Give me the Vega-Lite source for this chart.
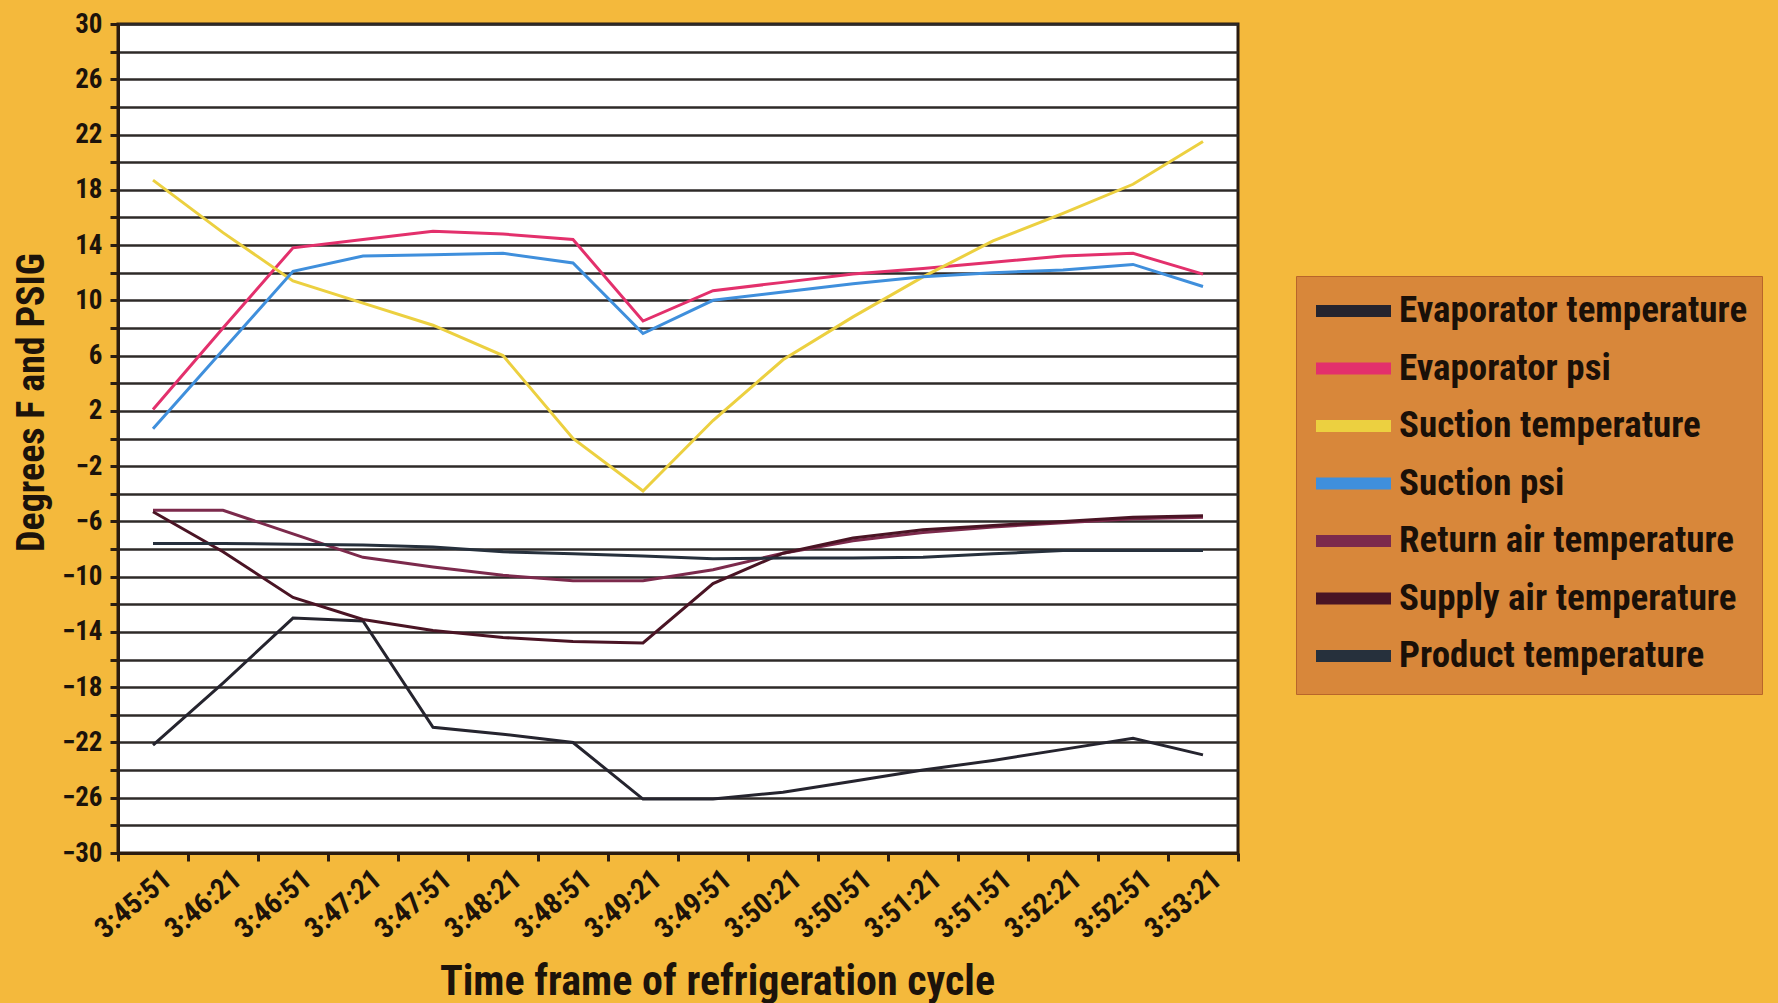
{
  "$schema": "https://vega.github.io/schema/vega-lite/v6.json",
  "width": 1120,
  "height": 829,
  "autosize": "none",
  "padding": {"left": 118, "top": 24, "right": 540, "bottom": 150},
  "background": "#f4b93c",
  "config": {
    "font": "Liberation Sans Narrow, Roboto Condensed, DejaVu Sans Condensed, sans-serif",
    "view": {"fill": "#ffffff", "stroke": "#2b1c10", "strokeWidth": 3}
  },
  "data": {
    "values": [
      {"time": "3:45:51", "series": "Evaporator temperature", "v": -22.2},
      {"time": "3:46:21", "series": "Evaporator temperature", "v": -17.7},
      {"time": "3:46:51", "series": "Evaporator temperature", "v": -13.0},
      {"time": "3:47:21", "series": "Evaporator temperature", "v": -13.2},
      {"time": "3:47:51", "series": "Evaporator temperature", "v": -20.9},
      {"time": "3:48:21", "series": "Evaporator temperature", "v": -21.4},
      {"time": "3:48:51", "series": "Evaporator temperature", "v": -22.0},
      {"time": "3:49:21", "series": "Evaporator temperature", "v": -26.1},
      {"time": "3:49:51", "series": "Evaporator temperature", "v": -26.1},
      {"time": "3:50:21", "series": "Evaporator temperature", "v": -25.6},
      {"time": "3:50:51", "series": "Evaporator temperature", "v": -24.8},
      {"time": "3:51:21", "series": "Evaporator temperature", "v": -24.0},
      {"time": "3:51:51", "series": "Evaporator temperature", "v": -23.3},
      {"time": "3:52:21", "series": "Evaporator temperature", "v": -22.5},
      {"time": "3:52:51", "series": "Evaporator temperature", "v": -21.7},
      {"time": "3:53:21", "series": "Evaporator temperature", "v": -22.9},

      {"time": "3:45:51", "series": "Evaporator psi", "v": 2.1},
      {"time": "3:46:21", "series": "Evaporator psi", "v": 8.0},
      {"time": "3:46:51", "series": "Evaporator psi", "v": 13.8},
      {"time": "3:47:21", "series": "Evaporator psi", "v": 14.4},
      {"time": "3:47:51", "series": "Evaporator psi", "v": 15.0},
      {"time": "3:48:21", "series": "Evaporator psi", "v": 14.8},
      {"time": "3:48:51", "series": "Evaporator psi", "v": 14.4},
      {"time": "3:49:21", "series": "Evaporator psi", "v": 8.5},
      {"time": "3:49:51", "series": "Evaporator psi", "v": 10.7},
      {"time": "3:50:21", "series": "Evaporator psi", "v": 11.3},
      {"time": "3:50:51", "series": "Evaporator psi", "v": 11.9},
      {"time": "3:51:21", "series": "Evaporator psi", "v": 12.3},
      {"time": "3:51:51", "series": "Evaporator psi", "v": 12.75},
      {"time": "3:52:21", "series": "Evaporator psi", "v": 13.2},
      {"time": "3:52:51", "series": "Evaporator psi", "v": 13.4},
      {"time": "3:53:21", "series": "Evaporator psi", "v": 11.9},

      {"time": "3:45:51", "series": "Suction temperature", "v": 18.7},
      {"time": "3:46:21", "series": "Suction temperature", "v": 14.9},
      {"time": "3:46:51", "series": "Suction temperature", "v": 11.4},
      {"time": "3:47:21", "series": "Suction temperature", "v": 9.8},
      {"time": "3:47:51", "series": "Suction temperature", "v": 8.2},
      {"time": "3:48:21", "series": "Suction temperature", "v": 6.0},
      {"time": "3:48:51", "series": "Suction temperature", "v": 0.0},
      {"time": "3:49:21", "series": "Suction temperature", "v": -3.8},
      {"time": "3:49:51", "series": "Suction temperature", "v": 1.3},
      {"time": "3:50:21", "series": "Suction temperature", "v": 5.7},
      {"time": "3:50:51", "series": "Suction temperature", "v": 8.8},
      {"time": "3:51:21", "series": "Suction temperature", "v": 11.7},
      {"time": "3:51:51", "series": "Suction temperature", "v": 14.3},
      {"time": "3:52:21", "series": "Suction temperature", "v": 16.3},
      {"time": "3:52:51", "series": "Suction temperature", "v": 18.4},
      {"time": "3:53:21", "series": "Suction temperature", "v": 21.5},

      {"time": "3:45:51", "series": "Suction psi", "v": 0.7},
      {"time": "3:46:21", "series": "Suction psi", "v": 6.4},
      {"time": "3:46:51", "series": "Suction psi", "v": 12.1},
      {"time": "3:47:21", "series": "Suction psi", "v": 13.2},
      {"time": "3:47:51", "series": "Suction psi", "v": 13.3},
      {"time": "3:48:21", "series": "Suction psi", "v": 13.4},
      {"time": "3:48:51", "series": "Suction psi", "v": 12.7},
      {"time": "3:49:21", "series": "Suction psi", "v": 7.6},
      {"time": "3:49:51", "series": "Suction psi", "v": 10.0},
      {"time": "3:50:21", "series": "Suction psi", "v": 10.6},
      {"time": "3:50:51", "series": "Suction psi", "v": 11.2},
      {"time": "3:51:21", "series": "Suction psi", "v": 11.7},
      {"time": "3:51:51", "series": "Suction psi", "v": 12.0},
      {"time": "3:52:21", "series": "Suction psi", "v": 12.2},
      {"time": "3:52:51", "series": "Suction psi", "v": 12.6},
      {"time": "3:53:21", "series": "Suction psi", "v": 11.0},

      {"time": "3:45:51", "series": "Return air temperature", "v": -5.2},
      {"time": "3:46:21", "series": "Return air temperature", "v": -5.2},
      {"time": "3:46:51", "series": "Return air temperature", "v": -6.9},
      {"time": "3:47:21", "series": "Return air temperature", "v": -8.6},
      {"time": "3:47:51", "series": "Return air temperature", "v": -9.3},
      {"time": "3:48:21", "series": "Return air temperature", "v": -9.9},
      {"time": "3:48:51", "series": "Return air temperature", "v": -10.3},
      {"time": "3:49:21", "series": "Return air temperature", "v": -10.3},
      {"time": "3:49:51", "series": "Return air temperature", "v": -9.5},
      {"time": "3:50:21", "series": "Return air temperature", "v": -8.3},
      {"time": "3:50:51", "series": "Return air temperature", "v": -7.4},
      {"time": "3:51:21", "series": "Return air temperature", "v": -6.8},
      {"time": "3:51:51", "series": "Return air temperature", "v": -6.4},
      {"time": "3:52:21", "series": "Return air temperature", "v": -6.1},
      {"time": "3:52:51", "series": "Return air temperature", "v": -5.8},
      {"time": "3:53:21", "series": "Return air temperature", "v": -5.7},

      {"time": "3:45:51", "series": "Supply air temperature", "v": -5.3},
      {"time": "3:46:21", "series": "Supply air temperature", "v": -8.2},
      {"time": "3:46:51", "series": "Supply air temperature", "v": -11.5},
      {"time": "3:47:21", "series": "Supply air temperature", "v": -13.1},
      {"time": "3:47:51", "series": "Supply air temperature", "v": -13.9},
      {"time": "3:48:21", "series": "Supply air temperature", "v": -14.4},
      {"time": "3:48:51", "series": "Supply air temperature", "v": -14.7},
      {"time": "3:49:21", "series": "Supply air temperature", "v": -14.8},
      {"time": "3:49:51", "series": "Supply air temperature", "v": -10.5},
      {"time": "3:50:21", "series": "Supply air temperature", "v": -8.3},
      {"time": "3:50:51", "series": "Supply air temperature", "v": -7.2},
      {"time": "3:51:21", "series": "Supply air temperature", "v": -6.6},
      {"time": "3:51:51", "series": "Supply air temperature", "v": -6.3},
      {"time": "3:52:21", "series": "Supply air temperature", "v": -6.0},
      {"time": "3:52:51", "series": "Supply air temperature", "v": -5.7},
      {"time": "3:53:21", "series": "Supply air temperature", "v": -5.6},

      {"time": "3:45:51", "series": "Product temperature", "v": -7.6},
      {"time": "3:46:21", "series": "Product temperature", "v": -7.6},
      {"time": "3:46:51", "series": "Product temperature", "v": -7.65},
      {"time": "3:47:21", "series": "Product temperature", "v": -7.7},
      {"time": "3:47:51", "series": "Product temperature", "v": -7.85},
      {"time": "3:48:21", "series": "Product temperature", "v": -8.2},
      {"time": "3:48:51", "series": "Product temperature", "v": -8.35},
      {"time": "3:49:21", "series": "Product temperature", "v": -8.5},
      {"time": "3:49:51", "series": "Product temperature", "v": -8.7},
      {"time": "3:50:21", "series": "Product temperature", "v": -8.65},
      {"time": "3:50:51", "series": "Product temperature", "v": -8.65},
      {"time": "3:51:21", "series": "Product temperature", "v": -8.6},
      {"time": "3:51:51", "series": "Product temperature", "v": -8.35},
      {"time": "3:52:21", "series": "Product temperature", "v": -8.1},
      {"time": "3:52:51", "series": "Product temperature", "v": -8.1},
      {"time": "3:53:21", "series": "Product temperature", "v": -8.1}
    ]
  },
  "mark": {"type": "line", "strokeWidth": 3},
  "encoding": {
    "x": {
      "field": "time",
      "type": "ordinal",
      "sort": null,
      "bandPosition": 0.5,
      "scale": {"type": "band", "paddingInner": 0, "paddingOuter": 0},
      "axis": {
        "title": "Time frame of refrigeration cycle",
        "tickBand": "extent",
        "grid": false,
        "labelAngle": -40,
        "labelAlign": "right",
        "labelBaseline": "middle",
        "labelOffset": 14,
        "labelPadding": 14,
        "labelFontSize": 29,
        "labelFontWeight": "bold",
        "labelColor": "#1c130b",
        "domainColor": "#2b1c10",
        "domainWidth": 3,
        "tickColor": "#2b1c10",
        "tickWidth": 3,
        "tickSize": 8,
        "titleFontSize": 42,
        "titleFontWeight": "bold",
        "titleColor": "#1c130b",
        "titleX": 599,
        "titleY": 128,
        "titleAlign": "center",
        "titleBaseline": "middle"
      }
    },
    "y": {
      "field": "v",
      "type": "quantitative",
      "scale": {"domain": [-30, 30], "nice": false, "zero": false},
      "axis": {
        "title": "Degrees F and PSIG",
        "values": [-30, -28, -26, -24, -22, -20, -18, -16, -14, -12, -10, -8, -6, -4, -2, 0, 2, 4, 6, 8, 10, 12, 14, 16, 18, 20, 22, 24, 26, 28, 30],
        "labelExpr": "abs(datum.value) % 4 == 2 ? datum.label : ''",
        "grid": true,
        "gridColor": "#2e2a28",
        "gridWidth": 2.5,
        "gridOpacity": 1,
        "labelFontSize": 27,
        "labelFontWeight": "bold",
        "labelColor": "#1c130b",
        "labelPadding": 8,
        "domainColor": "#2b1c10",
        "domainWidth": 3,
        "tickColor": "#2b1c10",
        "tickWidth": 3,
        "tickSize": 8,
        "titleFontSize": 38,
        "titleFontWeight": "bold",
        "titleColor": "#1c130b",
        "titleAngle": -90,
        "titleX": -86,
        "titleY": 378,
        "titleAlign": "center",
        "titleBaseline": "middle"
      }
    },
    "color": {
      "field": "series",
      "type": "nominal",
      "sort": ["Evaporator temperature", "Evaporator psi", "Suction temperature", "Suction psi", "Return air temperature", "Supply air temperature", "Product temperature"],
      "scale": {
        "domain": ["Evaporator temperature", "Evaporator psi", "Suction temperature", "Suction psi", "Return air temperature", "Supply air temperature", "Product temperature"],
        "range": ["#25242e", "#e3306c", "#ecd040", "#3f8fdc", "#7c2a4c", "#4a1424", "#26303c"]
      },
      "legend": {
        "orient": "none",
        "legendX": 1178,
        "legendY": 252,
        "title": null,
        "fillColor": "#d8873a",
        "strokeColor": "#b8652a",
        "padding": 14,
        "symbolType": "M-1,0H4",
        "symbolStrokeWidth": 12,
        "symbolSize": 900,
        "labelFontSize": 37,
        "labelFontWeight": "bold",
        "labelColor": "#1a1008",
        "labelOffset": 47,
        "labelLimit": 500,
        "rowPadding": 9.5
      }
    }
  }
}
